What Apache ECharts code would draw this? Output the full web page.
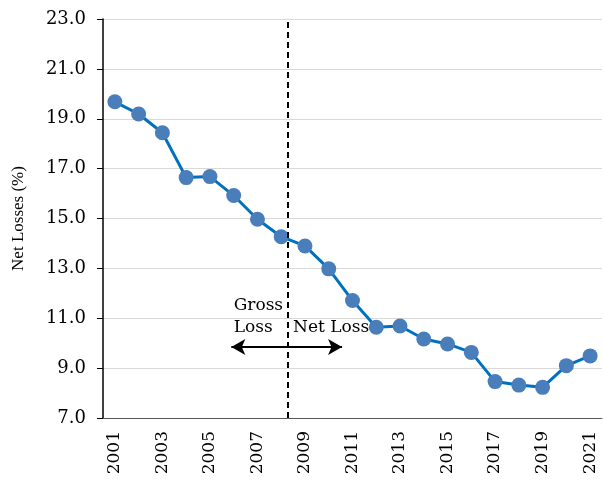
<!DOCTYPE html>
<html>
<head>
<meta charset="utf-8">
<script src="https://cdn.jsdelivr.net/npm/echarts@6/dist/echarts.min.js"></script>
<style>
  html, body { margin: 0; padding: 0; background: #fff; }
  #chart { width: 604px; height: 482px; }
</style>
</head>
<body>
<div id="chart"></div>
<script>
// data
var years = ['2001','2002','2003','2004','2005','2006','2007','2008','2009','2010','2011',
             '2012','2013','2014','2015','2016','2017','2018','2019','2020','2021'];
var netLosses = [19.68, 19.19, 18.44, 16.64, 16.68, 15.92, 14.97, 14.27, 13.90, 12.98, 11.71,
                 10.64, 10.69, 10.17, 9.97, 9.63, 8.46, 8.32, 8.23, 9.10, 9.49];
var yTicks = { min: 7, max: 23, step: 2 };
// annotation positions in axis units (x = category index)
var splitYear = 7.28;
var arrowFrom = [4.9, 9.85];
var arrowTo = [9.56, 9.85];

var serif = 'DejaVu Serif';
var chart = echarts.init(document.getElementById('chart'));

var option = {
  animation: false,
  grid: { left: 103, right: 2, top: 19, bottom: 64, outerBoundsMode: 'none', containLabel: false },
  xAxis: [
    {
      type: 'category',
      data: years,
      boundaryGap: true,
      axisLine: { onZero: false, lineStyle: { color: '#595959', width: 1 } },
      axisTick: { alignWithLabel: true, interval: 0, length: 5, lineStyle: { color: '#595959' } },
      axisLabel: { interval: 1, rotate: 90, margin: 13, color: '#000', fontFamily: serif, fontSize: 17 }
    },
    { type: 'value', min: -0.5, max: 20.5, show: false }
  ],
  yAxis: {
    type: 'value',
    min: yTicks.min,
    max: yTicks.max,
    interval: yTicks.step,
    name: 'Net Losses (%)',
    nameLocation: 'middle',
    nameGap: 76,
    nameTextStyle: { color: '#000', fontFamily: 'Liberation Serif', fontSize: 17 },
    axisLine: { show: true, onZero: false, lineStyle: { color: '#000', width: 1.5 } },
    axisTick: { show: true, length: 6, lineStyle: { color: '#000' } },
    axisLabel: { margin: 17, color: '#000', fontFamily: serif, fontSize: 18,
      formatter: function (v) { return v.toFixed(1); } },
    splitLine: { lineStyle: { color: '#d9d9d9', width: 1 } }
  },
  series: [
    {
      type: 'line',
      data: netLosses,
      symbol: 'circle',
      symbolSize: 15,
      lineStyle: { color: '#0070c0', width: 3 },
      itemStyle: { color: '#4a7ebb' },
      z: 3
    },
    {
      type: 'scatter',
      xAxisIndex: 1,
      data: [],
      markLine: {
        silent: true,
        animation: false,
        label: { show: false },
        lineStyle: { color: '#000', width: 2 },
        data: [
          [
            { coord: [splitYear, yTicks.min], symbol: 'none', lineStyle: { type: [6, 4], color: '#000', width: 2 } },
            { coord: [splitYear, yTicks.max], symbol: 'none' }
          ],
          [
            { coord: arrowFrom, symbol: 'arrow', symbolSize: [12, 14], lineStyle: { type: 'solid', color: '#000', width: 2 } },
            { coord: arrowTo, symbol: 'arrow', symbolSize: [12, 14] }
          ]
        ]
      },
      markPoint: {
        symbol: 'circle',
        symbolSize: 0,
        label: { show: true, color: '#000', fontFamily: serif, fontSize: 17, align: 'left', lineHeight: 22 },
        data: [
          { coord: [5.0, 11.05], value: 'Gross\nLoss', label: { formatter: 'Gross\nLoss', position: 'inside' } },
          { coord: [7.5, 10.61], value: 'Net Loss', label: { formatter: 'Net Loss', position: 'inside' } }
        ]
      },
      z: 2
    }
  ]
};
chart.setOption(option);
</script>
</body>
</html>
